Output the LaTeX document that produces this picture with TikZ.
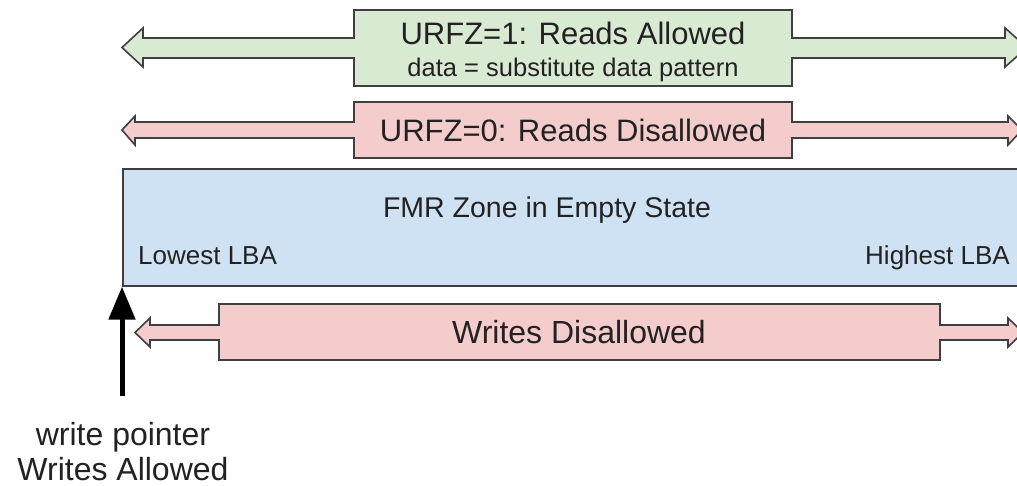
\documentclass[tikz,border=0pt]{standalone}
\usepackage{fontspec}
\setmainfont{Liberation Sans}
\usetikzlibrary{arrows.meta}
\definecolor{gfill}{HTML}{D9EAD3}
\definecolor{pfill}{HTML}{F4CCCC}
\definecolor{bfill}{HTML}{CFE2F3}
\definecolor{edge}{HTML}{3F3F3F}
\definecolor{txt}{HTML}{222222}
\tikzset{
  callout/.style={draw=edge, line width=1.6pt, line join=miter},
  lbl/.style={inner sep=0pt, text=txt, font=\fontsize{31}{36}\selectfont},
  small/.style={inner sep=0pt, text=txt, font=\fontsize{25.5}{30}\selectfont},
  tiny/.style={inner sep=0pt, text=txt, font=\fontsize{26}{30}\selectfont},
  pointer/.style={line width=5pt, draw=black, -{Triangle[length=33pt,width=26pt]}}
}
\begin{document}
\begin{tikzpicture}[x=1pt,y=-1pt]
\useasboundingbox (0,0) rectangle (1017,486);
\clip (0,0) rectangle (1017,486);
\fill[white] (0,0) rectangle (1017,486);
% green callout
\draw[callout, fill=gfill] (122,47.5) -- (143,28) -- (143,38) -- (354,38) -- (354,10) -- (792,10) -- (792,38)
  -- (1005,38) -- (1005,28) -- (1027,47.5) -- (1005,67) -- (1005,58) -- (792,58) -- (792,86) -- (354,86)
  -- (354,58) -- (143,58) -- (143,67) -- cycle;
\node[lbl] (r1) at (573,33) {URFZ=1: Reads Allowed};
\node[small] (r1b) at (573,70) {data = substitute data pattern};
% pink reads callout
\draw[callout, fill=pfill] (122,130) -- (135,116) -- (135,122) -- (354,122) -- (354,102) -- (792,102) -- (792,122)
  -- (1008,122) -- (1008,116) -- (1022,130) -- (1008,145) -- (1008,138) -- (792,138) -- (792,158) -- (354,158)
  -- (354,138) -- (135,138) -- (135,145) -- cycle;
\node[lbl] (r0) at (573,130) {URFZ=0: Reads Disallowed};
% zone
\node[draw=edge, line width=1.6pt, fill=bfill, minimum width=910pt, minimum height=117pt, anchor=north west, inner sep=0pt]
  (zone) at (122,168) {};
\node[lbl, font=\fontsize{28.5}{34}\selectfont] (zt) at (547,210) {FMR Zone in Empty State};
\node[tiny, anchor=west] (lo) at (138,256) {Lowest LBA};
\node[tiny, anchor=west] (hi) at (865,258) {Highest LBA};
% writes callout
\draw[callout, fill=pfill] (135,332.5) -- (150,318) -- (150,325) -- (219,325) -- (219,304) -- (940,304) -- (940,325)
  -- (1008,325) -- (1008,318) -- (1023,332.5) -- (1008,347) -- (1008,340) -- (940,340) -- (940,360) -- (219,360)
  -- (219,340) -- (150,340) -- (150,347) -- cycle;
\node[lbl, font=\fontsize{32}{36}\selectfont] (wd) at (579,332) {Writes Disallowed};
% write pointer
\coordinate (wp) at (122,396);
\draw[pointer] (wp) -- (zone.south west);
\node[lbl, align=center, font=\fontsize{32}{35}\selectfont] (wpl) at (123,452) {write pointer\\Writes Allowed};
\end{tikzpicture}
\end{document}
